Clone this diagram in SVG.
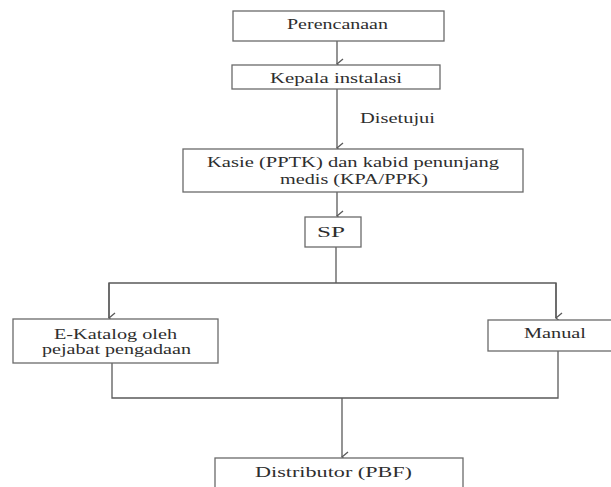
<svg xmlns="http://www.w3.org/2000/svg" width="611" height="487" viewBox="0 0 611 487">
<defs>
<style>
.box{fill:#fff;stroke:#6a6a6a;stroke-width:1.3}
.t{font-family:"Liberation Serif","Times New Roman","Tinos","DejaVu Serif",serif;font-size:15px;fill:#2e2e2e}
.c{fill:none;stroke:#5a5a5a;stroke-width:1.3}
</style>
<marker id="ah" markerWidth="12" markerHeight="10" refX="6" refY="8" orient="auto-start-reverse" markerUnits="userSpaceOnUse" viewBox="0 0 12 10">
<path d="M1,2 L6,8 L11,2" fill="none" stroke="#5a5a5a" stroke-width="1.3"/>
</marker>
</defs>
<rect width="611" height="487" fill="#fff"/>
<g id="connectors">
<line class="c" x1="337" y1="41" x2="337" y2="64" marker-end="url(#ah)"/>
<line class="c" x1="337" y1="89" x2="337" y2="148" marker-end="url(#ah)"/>
<line class="c" x1="337" y1="192" x2="337" y2="216" marker-end="url(#ah)"/>
<polyline class="c" points="336,247 336,283"/>
<polyline class="c" points="109,318 109,283 556,283 556,318"/>
<line class="c" x1="109" y1="283" x2="109" y2="318" marker-end="url(#ah)"/>
<line class="c" x1="556" y1="283" x2="556" y2="318" marker-end="url(#ah)"/>
<polyline class="c" points="112,363 112,398 558,398 558,351"/>
<line class="c" x1="342" y1="398" x2="342" y2="457" marker-end="url(#ah)"/>
</g>
<g id="perencanaan">
<rect class="box" x="233" y="11" width="211" height="30"/>
<text class="t" x="287" y="29" textLength="101" lengthAdjust="spacingAndGlyphs">Perencanaan</text>
</g>
<g id="kepala">
<rect class="box" x="232" y="65" width="208" height="24"/>
<text class="t" x="270" y="83" textLength="132" lengthAdjust="spacingAndGlyphs">Kepala instalasi</text>
</g>
<g id="disetujui-label">
<text class="t" x="360" y="123" textLength="75" lengthAdjust="spacingAndGlyphs">Disetujui</text>
</g>
<g id="kasie">
<rect class="box" x="183" y="149" width="340" height="43"/>
<text class="t" x="207" y="167" textLength="292" lengthAdjust="spacingAndGlyphs">Kasie (PPTK) dan kabid penunjang</text>
<text class="t" x="280" y="184" textLength="148" lengthAdjust="spacingAndGlyphs">medis (KPA/PPK)</text>
</g>
<g id="sp">
<rect class="box" x="305" y="217" width="56" height="30"/>
<text class="t" x="317" y="237" textLength="28" lengthAdjust="spacingAndGlyphs">SP</text>
</g>
<g id="ekatalog">
<rect class="box" x="13" y="319" width="205" height="44"/>
<text class="t" x="54" y="339" textLength="123" lengthAdjust="spacingAndGlyphs">E-Katalog oleh</text>
<text class="t" x="42" y="354" textLength="149" lengthAdjust="spacingAndGlyphs">pejabat pengadaan</text>
</g>
<g id="manual">
<rect class="box" x="488" y="320" width="124" height="31"/>
<text class="t" x="524" y="338" textLength="62" lengthAdjust="spacingAndGlyphs">Manual</text>
</g>
<g id="distributor">
<rect class="box" x="215" y="458" width="248" height="40"/>
<text class="t" x="255" y="477" textLength="157" lengthAdjust="spacingAndGlyphs">Distributor (PBF)</text>
</g>
</svg>
